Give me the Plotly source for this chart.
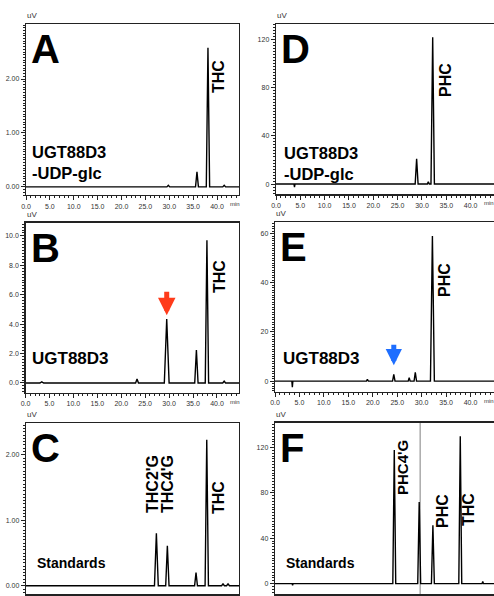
import plotly.graph_objects as go

W, H = 494, 596

# ---------------- data (retention time [min], peak height [uV], half-width [min]) ----------------
A_times = [29.8, 35.8, 38.1, 41.5]
A_heights = [0.03, 0.28, 2.58, 0.03]
A_hw = [0.3, 0.3, 0.35, 0.3]

B_times = [2.6, 3.4, 23.3, 29.5, 35.7, 37.9, 41.5]
B_heights = [0.05, 0.08, 0.27, 4.35, 2.24, 9.7, 0.12]
B_hw = [0.4, 0.4, 0.3, 0.5, 0.35, 0.35, 0.3]

C_times = [27.3, 29.6, 35.6, 37.85, 41.25, 42.3]
C_heights = [0.80, 0.61, 0.20, 2.23, 0.03, 0.03]
C_hw = [0.4, 0.35, 0.3, 0.35, 0.3, 0.3]

D_times = [3.8, 28.9, 31.3, 32.2]
D_heights = [-2.5, 21.0, 2.0, 122.0]
D_hw = [0.1, 0.3, 0.2, 0.35]

E_times = [3.55, 18.9, 24.3, 27.45, 28.7, 32.2]
E_heights = [-2.5, 0.7, 2.7, 1.4, 3.6, 59.0]
E_hw = [0.1, 0.2, 0.25, 0.2, 0.25, 0.4]

F_times = [3.6, 24.4, 29.5, 32.3, 37.9, 42.5]
F_heights = [-1.5, 118.0, 72.0, 51.6, 130.0, 2.0]
F_hw = [0.1, 0.3, 0.3, 0.3, 0.3, 0.15]

F_marker_time = 29.7  # vertical grey line in F

x_tick_vals = [0, 5, 10, 15, 20, 25, 30, 35, 40]
x_tick_text = ["0.0", "5.0", "10.0", "15.0", "20.0", "25.0", "30.0", "35.0", "40.0"]

A_yticks = [0, 1, 2]
A_ytext = ["0.00", "1.00", "2.00"]
B_yticks = [0, 2, 4, 6, 8, 10]
B_ytext = ["0.0", "2.0", "4.0", "6.0", "8.0", "10.0"]
C_yticks = [0, 1, 2]
C_ytext = ["0.00", "1.00", "2.00"]
D_yticks = [0, 40, 80, 120]
D_ytext = ["0", "40", "80", "120"]
E_yticks = [0, 20, 40, 60]
E_ytext = ["0", "20", "40", "60"]
F_yticks = [0, 40, 80, 120]
F_ytext = ["0", "40", "80", "120"]


def trace_xy(times, heights, hws, end):
    xs, ys = [0.0], [0.0]
    for t, h, w in zip(times, heights, hws):
        xs += [t - w, t, t + w]
        ys += [0.0, h, 0.0]
    xs.append(end)
    ys.append(0.0)
    return xs, ys


def px(x):
    return x / W


def py(y):
    return 1 - y / H


fig = go.Figure()

# panel geometry in pixels: (left, right, top, bottom), x range, y range
panels = [
    dict(name="A", t=A_times, h=A_heights, w=A_hw, box=(26, 239, 24, 195), xr=[0, 44.6], yr=[-0.15, 3.02],
         yt=A_yticks, ytt=A_ytext, ymin=0.05, right=False, xlabels=True),
    dict(name="B", t=B_times, h=B_heights, w=B_hw, box=(25.5, 239, 222.7, 392.7), xr=[0, 44.6], yr=[-0.66, 10.9],
         yt=B_yticks, ytt=B_ytext, ymin=0.2, right=False, xlabels=True),
    dict(name="C", t=C_times, h=C_heights, w=C_hw, box=(26, 239, 423.3, 594.3), xr=[0, 44.6], yr=[-0.13, 2.48],
         yt=C_yticks, ytt=C_ytext, ymin=0.05, right=False, xlabels=False),
    dict(name="D", t=D_times, h=D_heights, w=D_hw, box=(276, 494, 24, 194.3), xr=[0, 44.8], yr=[-8.5, 133],
         yt=D_yticks, ytt=D_ytext, ymin=2.5, right=True, xlabels=True),
    dict(name="E", t=E_times, h=E_heights, w=E_hw, box=(275, 494, 222, 391.7), xr=[0, 44.8], yr=[-4.3, 64.7],
         yt=E_yticks, ytt=E_ytext, ymin=1, right=True, xlabels=True),
    dict(name="F", t=F_times, h=F_heights, w=F_hw, box=(275, 494, 422.7, 594.3), xr=[0, 44.8], yr=[-9.4, 142],
         yt=F_yticks, ytt=F_ytext, ymin=2.5, right=True, xlabels=False),
]

line_col = "#222222"
tick_font = dict(family="Liberation Sans, Arial", size=7, color="#333333")
annotations = []
shapes = []

for i, p in enumerate(panels, start=1):
    xa = "x" if i == 1 else f"x{i}"
    ya = "y" if i == 1 else f"y{i}"
    l, r, t, b = p["box"]
    xs, ys = trace_xy(p["t"], p["h"], p["w"], p["xr"][1])
    fig.add_trace(go.Scatter(x=xs, y=ys, mode="lines", xaxis=xa, yaxis=ya,
                             line=dict(color="black", width=1.4), showlegend=False,
                             hoverinfo="skip"))
    xkey = "xaxis" if i == 1 else f"xaxis{i}"
    ykey = "yaxis" if i == 1 else f"yaxis{i}"
    fig.update_layout(**{
        xkey: dict(domain=[px(l), min(px(r), 1.0)], range=p["xr"], anchor=ya,
                   showline=True, linecolor=line_col, linewidth=1.3, mirror=True,
                   showgrid=False, zeroline=False, ticks="outside", ticklen=4, tickwidth=1,
                   tickcolor=line_col, tickvals=x_tick_vals, ticktext=x_tick_text,
                   showticklabels=p["xlabels"], tickfont=tick_font, automargin=False,
                   minor=dict(dtick=1, ticks="outside", ticklen=2, tickcolor=line_col, showgrid=False),
                   fixedrange=True),
        ykey: dict(domain=[py(b), py(t)], range=p["yr"], anchor=xa,
                   showline=True, linecolor=line_col, linewidth=1.3, mirror=(not p["right"]),
                   showgrid=False, zeroline=False, ticks="outside", ticklen=4, tickwidth=1,
                   tickcolor=line_col, tickvals=p["yt"], ticktext=p["ytt"], tickfont=tick_font,
                   automargin=False,
                   minor=dict(dtick=p["ymin"], ticks="outside", ticklen=2, tickcolor=line_col,
                              showgrid=False),
                   fixedrange=True),
    })
    # uV label
    annotations.append(dict(xref="paper", yref="paper", x=px(l - 1), y=py(t - 2), text="uV",
                            showarrow=False, xanchor="left", yanchor="bottom",
                            font=dict(family="Liberation Sans, Arial", size=8, color="#333333")))
    # min label
    if p["xlabels"]:
        annotations.append(dict(xref=xa, yref="paper", x=43.8, y=py(b + 4), text="min",
                                showarrow=False, xanchor="center", yanchor="top",
                                font=dict(family="Liberation Sans, Arial", size=6, color="#333333")))
    # big panel letter
    annotations.append(dict(xref="paper", yref="paper", x=px(l + 3), y=py(t + 1), text=f"<b>{p['name']}</b>",
                            showarrow=False, xanchor="left", yanchor="top",
                            font=dict(family="Liberation Sans, Arial", size=40, color="black")))

bold = "Liberation Sans, Arial"


def txt(x, y, s, size, angle=0, xanchor="center", yanchor="middle"):
    annotations.append(dict(xref="paper", yref="paper", x=px(x), y=py(y), text=f"<b>{s}</b>",
                            showarrow=False, textangle=angle, xanchor=xanchor, yanchor=yanchor,
                            align="left", font=dict(family=bold, size=size, color="black")))


# Panel A
txt(30, 162, "UGT88D3<br>-UDP-glc", 16.5, xanchor="left")
txt(219, 77, "THC", 16, angle=-90)
# Panel B
txt(30, 358, "UGT88D3", 17, xanchor="left")
txt(219, 277, "THC", 16, angle=-90)
# Panel C
txt(35, 563, "Standards", 14, xanchor="left")
txt(152, 484, "THC2'G", 16, angle=-90)
txt(167, 484, "THC4'G", 16, angle=-90)
txt(218, 498, "THC", 16, angle=-90)
# Panel D
txt(282, 163, "UGT88D3<br>-UDP-glc", 16.5, xanchor="left")
txt(445, 80, "PHC", 16, angle=-90)
# Panel E
txt(281, 358.5, "UGT88D3", 17, xanchor="left")
txt(444, 280, "PHC", 16, angle=-90)
# Panel F
txt(284, 563, "Standards", 14, xanchor="left")
txt(402, 468, "PHC4'G", 15, angle=-90)
txt(442, 511, "PHC", 16, angle=-90)
txt(468, 510, "THC", 16, angle=-90)

# arrows
annotations.append(dict(xref="x2", yref="y2", x=B_times[3], y=4.6, ax=0, ay=-25,
                        showarrow=True, arrowhead=2, arrowsize=0.7, arrowwidth=5, arrowcolor="#FF3B1A",
                        text=""))
annotations.append(dict(xref="x5", yref="y5", x=E_times[2], y=6.5, ax=0, ay=-22,
                        showarrow=True, arrowhead=2, arrowsize=0.65, arrowwidth=5, arrowcolor="#1E6EFF",
                        text=""))

shapes.append(dict(type="line", xref="x6", yref="y6 domain", x0=F_marker_time, x1=F_marker_time,
                   y0=-0.05, y1=1, line=dict(color="#AAAAAA", width=1.5), layer="below"))

fig.update_layout(width=W, height=H, margin=dict(l=0, r=0, t=0, b=0, autoexpand=False),
                  paper_bgcolor="white", plot_bgcolor="white",
                  annotations=annotations, shapes=shapes, showlegend=False)

fig.write_html("out.html", config={"displayModeBar": False, "staticPlot": True},
               post_script="document.body.style.margin='0';document.body.style.overflow='hidden';")
